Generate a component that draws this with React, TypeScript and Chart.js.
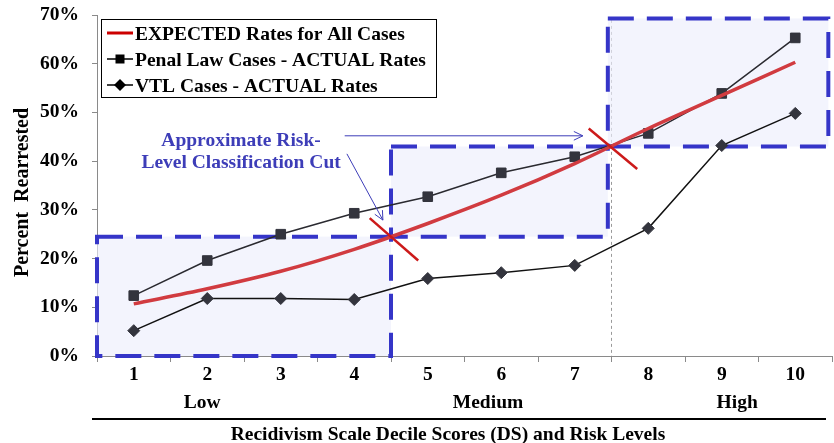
import React, { useEffect, useRef } from 'react';
import { Chart, registerables } from 'chart.js';

Chart.register(...registerables);

const deciles = ['1', '2', '3', '4', '5', '6', '7', '8', '9', '10'];
const expectedRates = [10.7, 13.8, 17.4, 21.9, 27.2, 33.0, 39.5, 46.7, 53.5, 60.3];
const penalRates = [12.4, 19.6, 25.0, 29.3, 32.7, 37.6, 40.9, 45.7, 53.9, 65.3];
const vtlRates = [5.2, 11.8, 11.8, 11.6, 15.9, 17.1, 18.6, 26.2, 43.2, 49.8];
const seriesNames = [
  'EXPECTED Rates for All Cases',
  'Penal Law Cases - ACTUAL Rates',
  'VTL Cases - ACTUAL Rates',
];
const riskLevels = ['Low', 'Medium', 'High'];
const riskCuts = [24.5, 43.0];
const annotationLines = ['Approximate Risk-', 'Level Classification Cut'];
const yTitle = 'Percent  Rearrested';
const xTitle = 'Recidivism Scale Decile Scores (DS) and Risk Levels';

const FONT = '"Liberation Serif", "Times New Roman", serif';
const RED = '#d13b40';
const CROSS = '#cc1a1a';
const BLUE = '#3535c8';
const NOTE = '#3d3db8';
const DARK = '#33343d';

const decor = {
  id: 'decor',
  beforeDatasetsDraw(chart: any) {
    const { ctx, scales } = chart;
    const x = scales.x;
    const y = scales.y;
    const X = (v: number) => x.getPixelForValue(v);
    const Y = (v: number) => y.getPixelForValue(v);
    ctx.save();
    ctx.strokeStyle = '#9a9a9a';
    ctx.lineWidth = 1;
    ctx.setLineDash([3, 3]);
    ctx.beginPath();
    ctx.moveTo(X(6.5), Y(69));
    ctx.lineTo(X(6.5), Y(0));
    ctx.stroke();
    const rects = [
      [-0.5, 3.5, 0, riskCuts[0]],
      [3.5, 6.45, riskCuts[0], riskCuts[1]],
      [6.45, 9.45, riskCuts[1], 69.3],
    ];
    ctx.setLineDash([]);
    ctx.fillStyle = 'rgba(236,238,252,0.65)';
    rects.forEach(([x0, x1, y0, y1]) => {
      ctx.fillRect(X(x0), Y(y1), X(x1) - X(x0), Y(y0) - Y(y1));
    });
    ctx.strokeStyle = BLUE;
    ctx.lineWidth = 4;
    ctx.setLineDash([26, 13]);
    rects.forEach(([x0, x1, y0, y1]) => {
      ctx.strokeRect(X(x0), Y(y1), X(x1) - X(x0), Y(y0) - Y(y1));
    });
    ctx.restore();
  },
  afterDatasetsDraw(chart: any) {
    const { ctx, scales, chartArea: ca } = chart;
    const x = scales.x;
    const y = scales.y;
    const X = (v: number) => x.getPixelForValue(v);
    const Y = (v: number) => y.getPixelForValue(v);
    ctx.save();
    ctx.strokeStyle = CROSS;
    ctx.lineWidth = 2.5;
    const crosses = [
      [3.21, 28.3, 3.87, 19.6],
      [6.19, 46.7, 6.85, 38.4],
    ];
    crosses.forEach(([a, b, c, d]) => {
      ctx.beginPath();
      ctx.moveTo(X(a), Y(b));
      ctx.lineTo(X(c), Y(d));
      ctx.stroke();
    });
    const arrow = (x0: number, y0: number, x1: number, y1: number) => {
      ctx.beginPath();
      ctx.moveTo(x0, y0);
      ctx.lineTo(x1, y1);
      const ang = Math.atan2(y1 - y0, x1 - x0);
      const h = 10;
      ctx.moveTo(x1 - h * Math.cos(ang - 0.45), y1 - h * Math.sin(ang - 0.45));
      ctx.lineTo(x1, y1);
      ctx.lineTo(x1 - h * Math.cos(ang + 0.45), y1 - h * Math.sin(ang + 0.45));
      ctx.stroke();
    };
    ctx.strokeStyle = NOTE;
    ctx.lineWidth = 1;
    arrow(X(2.9), Y(41.5), X(3.39), Y(27.9));
    arrow(X(2.87), Y(45.2), X(6.11), Y(45.2));
    ctx.fillStyle = NOTE;
    ctx.font = 'bold 19.5px ' + FONT;
    ctx.textAlign = 'center';
    ctx.textBaseline = 'alphabetic';
    ctx.fillText(annotationLines[0], X(1.46), Y(44.4) + 6.5);
    ctx.fillText(annotationLines[1], X(1.46), Y(39.85) + 6.5);

    // legend
    const lx = ca.left + 4;
    const ly = ca.top + 4;
    ctx.fillStyle = '#ffffff';
    ctx.fillRect(lx, ly, 335, 78);
    ctx.strokeStyle = '#000';
    ctx.lineWidth = 1;
    ctx.strokeRect(lx + 0.5, ly + 0.5, 335, 78);
    const rows = [ly + 14, ly + 40, ly + 66];
    const mx0 = lx + 6;
    const mx1 = lx + 32;
    const mc = (mx0 + mx1) / 2;
    ctx.strokeStyle = '#cc0000';
    ctx.lineWidth = 3;
    ctx.beginPath();
    ctx.moveTo(mx0, rows[0]);
    ctx.lineTo(mx1, rows[0]);
    ctx.stroke();
    ctx.strokeStyle = '#000';
    ctx.lineWidth = 1.5;
    ctx.beginPath();
    ctx.moveTo(mx0, rows[1]);
    ctx.lineTo(mx1, rows[1]);
    ctx.moveTo(mx0, rows[2]);
    ctx.lineTo(mx1, rows[2]);
    ctx.stroke();
    ctx.fillStyle = '#000';
    ctx.fillRect(mc - 4.5, rows[1] - 4.5, 9, 9);
    ctx.beginPath();
    ctx.moveTo(mc - 6, rows[2]);
    ctx.lineTo(mc, rows[2] - 6);
    ctx.lineTo(mc + 6, rows[2]);
    ctx.lineTo(mc, rows[2] + 6);
    ctx.closePath();
    ctx.fill();
    ctx.textAlign = 'left';
    ctx.font = 'bold 19.5px ' + FONT;
    seriesNames.forEach((n, i) => ctx.fillText(n, mx1 + 2, rows[i] + 6.5));

    ctx.textAlign = 'center';
    const lvlPos = [0.93, 4.82, 8.21];
    riskLevels.forEach((r, i) => ctx.fillText(r, X(lvlPos[i]), y.bottom + 52));
    ctx.strokeStyle = '#000';
    ctx.lineWidth = 2;
    ctx.beginPath();
    ctx.moveTo(92, y.bottom + 63);
    ctx.lineTo(826, y.bottom + 63);
    ctx.stroke();
    ctx.fillText(xTitle, 448, y.bottom + 84);
    ctx.save();
    ctx.translate(28, (ca.top + ca.bottom) / 2 + 7);
    ctx.rotate(-Math.PI / 2);
    ctx.font = 'bold 20px ' + FONT;
    ctx.fillText(yTitle, 0, 0);
    ctx.restore();
    ctx.restore();
  },
};

export default function App() {
  const ref = useRef<HTMLCanvasElement | null>(null);
  useEffect(() => {
    document.body.style.margin = '0';
    if (!ref.current) return;
    const chart = new Chart(ref.current, {
      type: 'line',
      data: {
        labels: deciles,
        datasets: [
          {
            label: seriesNames[0],
            data: expectedRates,
            borderColor: RED,
            borderWidth: 3.5,
            cubicInterpolationMode: 'monotone',
            pointRadius: 0,
            order: 0,
          },
          {
            label: seriesNames[1],
            data: penalRates,
            borderColor: '#2a2a30',
            borderWidth: 1.5,
            pointStyle: 'rect',
            pointRadius: 6.8,
            pointBackgroundColor: DARK,
            pointBorderColor: DARK,
            pointBorderWidth: 1,
            order: 1,
          },
          {
            label: seriesNames[2],
            data: vtlRates,
            borderColor: '#111',
            borderWidth: 1.5,
            pointStyle: 'rectRot',
            pointRadius: 6,
            pointBackgroundColor: DARK,
            pointBorderColor: DARK,
            pointBorderWidth: 1,
            order: 2,
          },
        ],
      },
      options: {
        animation: false,
        responsive: true,
        maintainAspectRatio: false,
        layout: { autoPadding: false, padding: { left: 0, right: 2, top: 15, bottom: 0 } },
        plugins: { legend: { display: false }, tooltip: { enabled: false } },
        scales: {
          x: {
            type: 'category',
            offset: true,
            afterFit: (s: any) => {
              s.height = 87;
              s.paddingLeft = 0;
              s.paddingRight = 0;
            },
            grid: {
              display: true,
              offset: true,
              drawOnChartArea: false,
              drawTicks: true,
              tickLength: 6,
              color: '#8a8a8a',
            },
            border: { display: true, color: '#8a8a8a', width: 1 },
            ticks: {
              color: '#000',
              padding: 1,
              font: { family: FONT, size: 19.5, weight: 'bold' },
            },
          },
          y: {
            min: 0,
            max: 70,
            afterFit: (s: any) => {
              s.width = 97;
              s.paddingTop = 0;
              s.paddingBottom = 0;
            },
            grid: {
              display: true,
              drawOnChartArea: false,
              drawTicks: true,
              tickLength: 5,
              color: '#8a8a8a',
            },
            border: { display: true, color: '#8a8a8a', width: 1 },
            ticks: {
              stepSize: 10,
              color: '#000',
              padding: 13,
              font: { family: FONT, size: 19.5, weight: 'bold' },
              callback: (v: any) => v + '%',
            },
          },
        },
      } as any,
      plugins: [decor],
    });
    return () => chart.destroy();
  }, []);
  return (
    <div style={{ position: 'absolute', left: 0, top: 0, width: 834, height: 443 }}>
      <canvas ref={ref} />
    </div>
  );
}
